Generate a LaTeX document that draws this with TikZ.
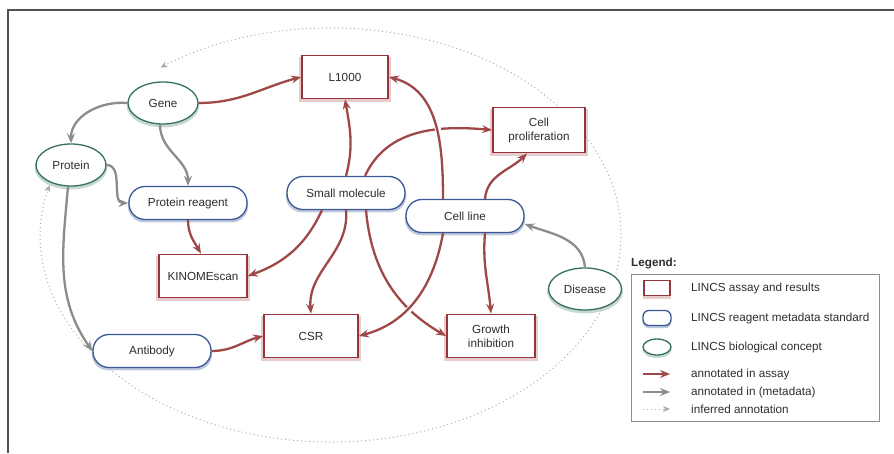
\documentclass[tikz,border=0pt]{standalone}
\usepackage{fontspec}
\setmainfont{Liberation Sans}
\usetikzlibrary{arrows.meta,shadows,shapes.geometric}

\definecolor{assayred}{RGB}{150,52,58}
\definecolor{arrowred}{RGB}{158,72,72}
\definecolor{reagentblue}{RGB}{58,88,150}
\definecolor{conceptgreen}{RGB}{52,112,92}
\definecolor{metagray}{RGB}{140,140,140}
\definecolor{ringgray}{RGB}{170,170,170}
\definecolor{framegray}{RGB}{80,80,80}
\definecolor{textgray}{RGB}{45,45,45}

\tikzset{
  assay/.style={draw=assayred, line width=1.8pt, fill=white, text=textgray,
    minimum width=86pt, minimum height=43pt, inner sep=0pt, align=center,
    general shadow={fill=assayred!45, shadow scale=1.06, shadow yshift=-2.5pt, opacity=.55}},
  reagent/.style={draw=reagentblue, line width=1.3pt, fill=white, text=textgray,
    rounded corners=16pt, minimum width=118pt, minimum height=33pt, inner sep=0pt,
    general shadow={fill=reagentblue!55, shadow scale=1.02, shadow yshift=-2.5pt, opacity=.6}},
  concept/.style={ellipse, draw=conceptgreen, line width=1.3pt, fill=white, text=textgray,
    minimum width=70pt, minimum height=42pt, inner sep=0pt,
    general shadow={fill=conceptgreen!50, shadow scale=1.04, shadow yshift=-2.5pt, opacity=.55}},
  inassay/.style={draw=arrowred, line width=2.3pt, -{Stealth[length=10pt,width=8pt,inset=3.5pt]}},
  inmeta/.style={draw=metagray, line width=2.3pt, -{Stealth[length=10pt,width=8pt,inset=3.5pt]}},
  inferred/.style={draw=ringgray, line width=1pt, dash pattern=on 1pt off 3pt,
    -{Stealth[length=7pt,width=6pt,inset=2pt]}},
  crossing/.style={preaction={draw=white, line width=6pt, shorten <=8pt, shorten >=12pt, -}},
  legendtext/.style={anchor=west, text=textgray, inner sep=0pt}
}

\begin{document}
\begin{tikzpicture}[x=1pt, y=1pt, font=\fontsize{11.7}{14}\selectfont]
  \useasboundingbox (0,0) rectangle (894,453);

  % frame
  \draw[framegray, line width=1.5pt] (8,0) -- (8,443) -- (894,443);

  % inferred ring
  \coordinate (ring) at (331,218);
  \draw[inferred] ([shift={(-14:290 and 207)}]ring) arc[start angle=-14, end angle=126, x radius=290, y radius=207];
  \draw[inferred] ([shift={(-18:290 and 207)}]ring) arc[start angle=-18, end angle=-194, x radius=290, y radius=207];

  % concepts
  \node[concept] (gene) at (163,350) {Gene};
  \node[concept] (protein) at (71,288) {Protein};
  \node[concept, minimum width=73pt] (disease) at (585,164) {Disease};

  % reagents
  \node[reagent] (preagent) at (188,250) {Protein reagent};
  \node[reagent] (smallmol) at (346,260) {Small molecule};
  \node[reagent] (cellline) at (465,237) {Cell line};
  \node[reagent] (antibody) at (152,102) {Antibody};

  % assays
  \node[assay] (lthousand) at (345,376) {L1000};
  \node[assay, minimum width=92pt, minimum height=45pt] (cellprolif) at (539,323) {Cell\\proliferation};
  \node[assay, minimum width=88pt] (kinome) at (203,177) {KINOMEscan};
  \node[assay, minimum width=94pt] (csr) at (311,117) {CSR};
  \node[assay, minimum width=88pt] (growth) at (491,117) {Growth\\inhibition};

  % annotated in assay
  \draw[inassay] (gene.east) to[out=0,in=195] (lthousand.west);
  \draw[inassay] (smallmol.north) to[out=75,in=-80] (lthousand.south);
  \draw[inassay] ([xshift=19pt]smallmol.north) to[out=65,in=175] (cellprolif.west);
  \draw[inassay, crossing] ([xshift=-22pt]cellline.north) to[out=90,in=-15] (lthousand.east);
  \draw[inassay] ([xshift=-24pt]smallmol.south) to[out=-115,in=20] (kinome.east);
  \draw[inassay] (smallmol.south) to[out=-85,in=95] (csr.north);
  \draw[inassay] ([xshift=20pt]smallmol.south) to[out=-85,in=150] (growth.west);
  \draw[inassay, crossing] ([xshift=-22pt]cellline.south) to[out=-100,in=15] (csr.east);
  \draw[inassay] ([xshift=20pt]cellline.south) to[out=-95,in=95] (growth.north);
  \draw[inassay] ([xshift=20pt]cellline.north) to[out=85,in=-135] ([xshift=-12pt]cellprolif.south);
  \draw[inassay] (preagent.south) to[out=-90,in=120] ([xshift=-2pt]kinome.north);
  \draw[inassay] (antibody.east) to[out=0,in=195] (csr.west);

  % annotated in metadata
  \draw[inmeta] (gene.west) to[out=175,in=90] (protein.north);
  \draw[inmeta] ([xshift=-3pt]gene.south) to[out=-90,in=90] (preagent.north);
  \draw[inmeta] (protein.east) to[out=0,in=180] (preagent.west);
  \draw[inmeta] ([xshift=-3pt]protein.south) to[out=-95,in=125] (antibody.west);
  \draw[inmeta] (disease.north) to[out=95,in=-20] ([yshift=-8pt]cellline.east);

  % legend
  \node[legendtext, font=\fontsize{11.7}{14}\selectfont\bfseries] (legendtitle) at (631,189) {Legend:};
  \draw[metagray, line width=1pt] (631,179) rectangle (879,32);
  \node[assay, minimum width=26pt, minimum height=15pt] (keyassay) at (657,165) {};
  \node[reagent, minimum width=28pt, minimum height=15pt, rounded corners=6pt] (keyreagent) at (657,135) {};
  \node[concept, minimum width=28pt, minimum height=16pt] (keyconcept) at (657,106) {};
  \coordinate (keyinassaya) at (643,79);
  \coordinate (keyinassayb) at (670,79);
  \coordinate (keyinmetaa) at (643,61);
  \coordinate (keyinmetab) at (670,61);
  \coordinate (keyinferreda) at (643,44);
  \coordinate (keyinferredb) at (670,44);
  \draw[inassay, line width=1.6pt] (keyinassaya) -- (keyinassayb);
  \draw[inmeta, line width=1.6pt] (keyinmetaa) -- (keyinmetab);
  \draw[inferred] (keyinferreda) -- (keyinferredb);
  \node[legendtext] (lblassay) at (691,165) {LINCS assay and results};
  \node[legendtext] (lblreagent) at (691,135) {LINCS reagent metadata standard};
  \node[legendtext] (lblconcept) at (691,106) {LINCS biological concept};
  \node[legendtext] (lblinassay) at (691,79) {annotated in assay};
  \node[legendtext] (lblinmeta) at (691,61) {annotated in (metadata)};
  \node[legendtext] (lblinferred) at (691,44) {inferred annotation};
\end{tikzpicture}
\end{document}
